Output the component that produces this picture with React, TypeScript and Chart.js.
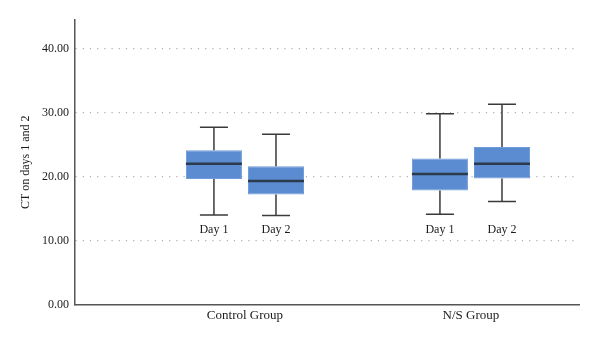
import React, { useEffect, useRef } from "react";
import { Chart, registerables } from "chart.js";

Chart.register(...registerables);

const groups = ["Control Group", "N/S Group"];
const days = ["Day 1", "Day 2"];
const yTicks = [0, 10, 20, 30, 40];

// box-plot statistics per group (Control, N/S)
const day1Min = [14.0, 14.1];
const day1Q1 = [19.6, 17.8];
const day1Median = [22.0, 20.4];
const day1Q3 = [24.1, 22.8];
const day1Max = [27.7, 29.8];

const day2Min = [13.9, 16.1];
const day2Q1 = [17.2, 19.7];
const day2Median = [19.3, 22.0];
const day2Q3 = [21.6, 24.6];
const day2Max = [26.6, 31.3];

const stats = [
  { min: day1Min, q1: day1Q1, med: day1Median, q3: day1Q3, max: day1Max },
  { min: day2Min, q1: day2Q1, med: day2Median, q3: day2Q3, max: day2Max },
];

const FONT = "'Liberation Serif', 'Times New Roman', serif";

const boxPlugin = {
  id: "boxWhiskers",
  afterDatasetsDraw(chart: any) {
    const ctx = chart.ctx;
    const y = chart.scales.y;
    const allMins = stats.flatMap((s) => s.min);
    const labelY = y.getPixelForValue(Math.min(...allMins)) + 14;
    ctx.save();
    stats.forEach((s, di) => {
      const meta = chart.getDatasetMeta(di);
      meta.data.forEach((bar: any, gi: number) => {
        const x = bar.x;
        const w = bar.width;
        const pMin = y.getPixelForValue(s.min[gi]);
        const pQ1 = y.getPixelForValue(s.q1[gi]);
        const pMed = y.getPixelForValue(s.med[gi]);
        const pQ3 = y.getPixelForValue(s.q3[gi]);
        const pMax = y.getPixelForValue(s.max[gi]);
        ctx.strokeStyle = "#3a3a3a";
        ctx.lineWidth = 1.5;
        ctx.beginPath();
        ctx.moveTo(x, pQ3);
        ctx.lineTo(x, pMax);
        ctx.moveTo(x - w / 4, pMax);
        ctx.lineTo(x + w / 4, pMax);
        ctx.moveTo(x, pQ1);
        ctx.lineTo(x, pMin);
        ctx.moveTo(x - w / 4, pMin);
        ctx.lineTo(x + w / 4, pMin);
        ctx.stroke();
        ctx.strokeStyle = "#2c3a4c";
        ctx.lineWidth = 2.5;
        ctx.beginPath();
        ctx.moveTo(x - w / 2, pMed);
        ctx.lineTo(x + w / 2, pMed);
        ctx.stroke();
        ctx.fillStyle = "#1a1a1a";
        ctx.font = `12px ${FONT}`;
        ctx.textAlign = "center";
        ctx.textBaseline = "middle";
        ctx.fillText(days[di], x, labelY);
      });
    });
    ctx.restore();
  },
};

export default function App() {
  const ref = useRef<HTMLCanvasElement>(null);
  useEffect(() => {
    document.body.style.margin = "0";
    const chart = new Chart(ref.current!, {
      type: "bar",
      data: {
        datasets: stats.map((s, di) => ({
          label: days[di],
          data: groups.map((_, gi) => ({ x: gi + 1, y: [s.q1[gi], s.q3[gi]] })) as any,
          backgroundColor: "#5b8cd1",
          borderColor: "#6f9bd8",
          borderWidth: 1,
          borderSkipped: false,
          categoryPercentage: 0.549,
          barPercentage: 0.903,
        })),
      },
      options: {
        animation: false,
        responsive: false,
        layout: { padding: { top: 20, right: 21, left: 0, bottom: 0 } },
        plugins: { legend: { display: false }, tooltip: { enabled: false } },
        scales: {
          x: {
            type: "linear",
            offset: false,
            min: 0.248,
            max: 2.478,
            afterBuildTicks: (scale: any) => {
              scale.ticks = groups.map((_, i) => ({ value: i + 1 }));
            },
            afterFit: (scale: any) => {
              scale.height = 38.5;
            },
            grid: { display: false, drawTicks: false, offset: false },
            border: { display: true, color: "#555", width: 1.5 },
            ticks: {
              padding: 3,
              color: "#1a1a1a",
              font: { family: FONT, size: 13 },
              callback: (v: any) => groups[Number(v) - 1] ?? "",
            },
          },
          y: {
            min: 0,
            max: 44.45,
            afterBuildTicks: (scale: any) => {
              scale.ticks = yTicks.map((v) => ({ value: v }));
            },
            afterFit: (scale: any) => {
              scale.width = 75;
            },
            grid: {
              drawTicks: false,
              color: (c: any) => (c.tick && c.tick.value === 0 ? "rgba(0,0,0,0)" : "#b0b0b0"),
              lineWidth: 1.2,
            },
            border: { display: true, color: "#555", width: 1.5, dash: [1.2, 6] as any },
            ticks: {
              padding: 6,
              color: "#1a1a1a",
              font: { family: FONT, size: 12 },
              callback: (v: any) => Number(v).toFixed(2),
            },
            title: {
              display: true,
              text: "CT on days 1 and 2",
              color: "#1a1a1a",
              font: { family: FONT, size: 12 },
              padding: { top: 19, bottom: 0 },
            },
          },
        },
      },
      plugins: [boxPlugin],
    });
    return () => chart.destroy();
  }, []);
  return (
    <div style={{ width: 600, height: 343 }}>
      <canvas ref={ref} width={600} height={343} />
    </div>
  );
}
